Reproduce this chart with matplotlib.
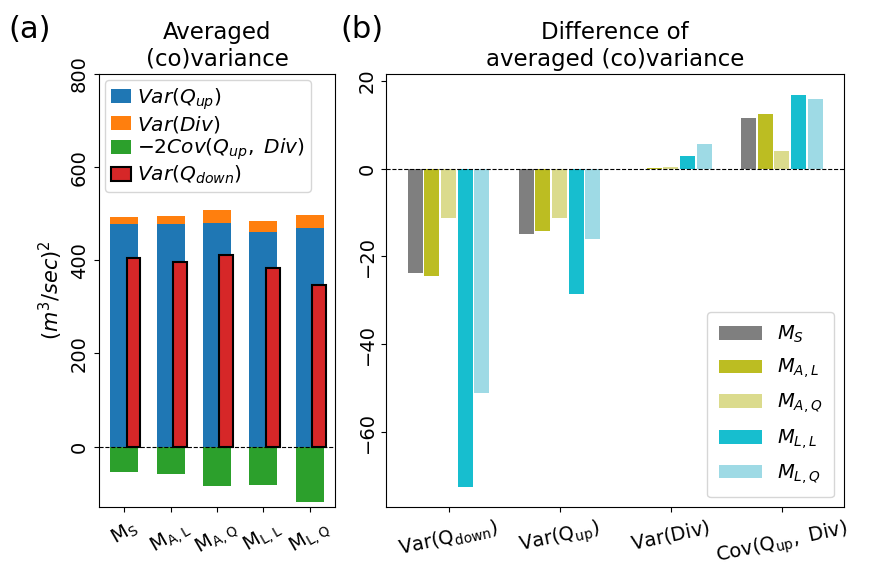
import matplotlib.pyplot as plt
import numpy as np

# panel (a): averaged (co)variance per model
models = [r"$\mathrm{M_S}$", r"$\mathrm{M_{A,L}}$", r"$\mathrm{M_{A,Q}}$",
          r"$\mathrm{M_{L,L}}$", r"$\mathrm{M_{L,Q}}$"]
var_qup = [477, 477, 481, 460, 469]
var_div = [15, 18, 26, 24, 29]
neg2cov = [-54, -58, -84, -82, -118]
var_qdown = [404, 396, 411, 383, 346]

# panel (b): difference of averaged (co)variance
terms = [r"$\mathrm{Var(Q_{down})}$", r"$\mathrm{Var(Q_{up})}$",
         r"$\mathrm{Var(Div)}$", r"$\mathrm{Cov(Q_{up},\ Div)}$"]
diff_names = [r"$M_S$", r"$M_{A,L}$", r"$M_{A,Q}$", r"$M_{L,L}$", r"$M_{L,Q}$"]
diff_vals = {
    r"$M_S$": [-23.7, -15.0, -0.2, 11.6],
    r"$M_{A,L}$": [-24.5, -14.3, 0.2, 12.3],
    r"$M_{A,Q}$": [-11.2, -11.3, 0.3, 3.9],
    r"$M_{L,L}$": [-72.5, -28.5, 2.8, 16.8],
    r"$M_{L,Q}$": [-51.0, -16.0, 5.5, 15.7],
}
diff_colors = ["#7f7f7f", "#bcbd22", "#dbdb8d", "#17becf", "#9edae5"]

fig = plt.figure(figsize=(8.82, 5.87), dpi=100)
ax1 = fig.add_axes([0.112, 0.136, 0.268, 0.738])
ax2 = fig.add_axes([0.438, 0.136, 0.519, 0.738])

x = np.arange(len(models))
ax1.bar(x, var_qup, width=0.6, color="tab:blue", label=r"$Var(Q_{up})$")
ax1.bar(x, var_div, width=0.6, bottom=var_qup, color="tab:orange", label=r"$Var(Div)$")
ax1.bar(x, neg2cov, width=0.6, color="tab:green", label=r"$-2Cov(Q_{up},\ Div)$")
ax1.bar(x + 0.2, var_qdown, width=0.3, color="tab:red", edgecolor="black",
        linewidth=1.5, label=r"$Var(Q_{down})$")
ax1.axhline(0, color="black", linestyle="--", linewidth=0.8)
ax1.set_xlim(-0.55, 4.55)
ax1.set_ylim(-130, 800)
ax1.set_yticks([0, 200, 400, 600, 800])
ax1.set_xticks(x)
ax1.set_xticklabels(models, rotation=30, ha="center", fontsize=15)
ax1.set_ylabel(r"$(m^3/sec)^2$", fontsize=15)
ax1.set_title("Averaged\n(co)variance", fontsize=16.5)
ax1.legend(loc="upper left", fontsize=14.5, handlelength=1.0, handletextpad=0.3,
           borderaxespad=0.3, labelspacing=0.1, borderpad=0.3)

xb = np.arange(len(terms))
offsets = [-0.3, -0.15, 0.0, 0.15, 0.3]
for name, off, col in zip(diff_names, offsets, diff_colors):
    ax2.bar(xb + off, diff_vals[name], width=0.135, color=col, label=name)
ax2.axhline(0, color="black", linestyle="--", linewidth=0.8)
ax2.set_xlim(-0.56, 3.56)
ax2.set_ylim(-77, 21.5)
ax2.set_yticks([-60, -40, -20, 0, 20])
ax2.set_xticks(xb)
ax2.set_xticklabels(terms, rotation=12, ha="center", fontsize=15)
ax2.set_title("Difference of\naveraged (co)variance", fontsize=16.5)
ax2.legend(loc="lower right", fontsize=14, handlelength=2.2, labelspacing=0.6,
           borderpad=0.6)

for ax in (ax1, ax2):
    ax.tick_params(labelsize=14)
    for lab in ax.get_yticklabels():
        lab.set_rotation(90)
        lab.set_va("center")

fig.text(0.01, 0.975, "(a)", fontsize=22, va="top")
fig.text(0.386, 0.975, "(b)", fontsize=22, va="top")

fig.savefig("out.png", dpi=100)
